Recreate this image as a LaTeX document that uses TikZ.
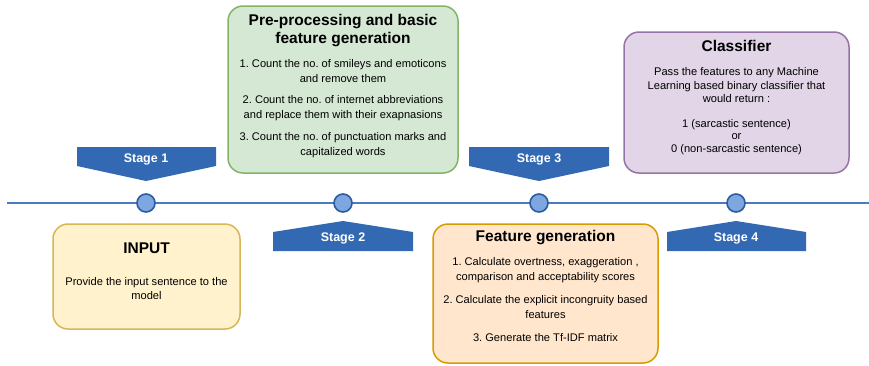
\documentclass[tikz,border=0pt]{standalone}
\usepackage{fontspec}
\setmainfont{Liberation Sans}
\frenchspacing
\definecolor{gfill}{HTML}{D5E8D4}\definecolor{gdraw}{HTML}{82B366}
\definecolor{yfill}{HTML}{FFF2CC}\definecolor{ydraw}{HTML}{D6B656}
\definecolor{ofill}{HTML}{FFE6CC}\definecolor{odraw}{HTML}{D79B00}
\definecolor{pfill}{HTML}{E1D5E7}\definecolor{pdraw}{HTML}{9673A6}
\definecolor{stageblue}{HTML}{3369B3}
\definecolor{linecol}{HTML}{4A7BBF}
\definecolor{dotfill}{HTML}{7EA6E0}\definecolor{dotdraw}{HTML}{2A5C9E}
\begin{document}
\begin{tikzpicture}[x=1pt,y=-1pt,
  box/.style={rounded corners=15pt,line width=1.5pt,inner sep=0pt},
  title/.style={font=\fontsize{15.5}{18}\selectfont\bfseries,align=center,inner sep=0pt},
  body/.style={font=\fontsize{11.1}{15}\selectfont,align=center,inner sep=0pt},
  stagelbl/.style={font=\fontsize{12.5}{14}\selectfont\bfseries,text=white,inner sep=0pt},
  stageshape/.style={fill=stageblue,draw=none},
  dot/.style={circle,minimum size=18pt,inner sep=0pt,fill=dotfill,draw=dotdraw,line width=1.6pt}]
\useasboundingbox (0,0) rectangle (869,365);

% timeline
\coordinate (tl) at (7,203);
\coordinate (tr) at (869,203);
\draw[linecol,line width=1.5pt] (tl) -- (tr);
\node[dot] (d1) at (146,203) {};
\node[dot] (d2) at (343,203) {};
\node[dot] (d3) at (539,203) {};
\node[dot] (d4) at (736,203) {};

% stage markers
\fill[stageshape] (77,147) -- (216,147) -- (216,166) -- (146,181) -- (77,166) -- cycle;
\node[stagelbl] (s1) at (146,159) {Stage 1};
\fill[stageshape] (469,147) -- (609,147) -- (609,166) -- (539,181) -- (469,166) -- cycle;
\node[stagelbl] (s3) at (539,159) {Stage 3};
\fill[stageshape] (273,251) -- (413,251) -- (413,232) -- (343,221) -- (273,232) -- cycle;
\node[stagelbl] (s2) at (343,238.5) {Stage 2};
\fill[stageshape] (667,251) -- (806,251) -- (806,232) -- (736,221) -- (667,232) -- cycle;
\node[stagelbl] (s4) at (736,238.5) {Stage 4};

% Pre-processing box
\draw[box,fill=gfill,draw=gdraw] (228,6) rectangle (458,173);
\node[title] (gt) at (343,30.5) {Pre-processing and basic\\feature generation};
\node[body,font=\fontsize{11.1}{15.7}\selectfont] (g1) at (343,71) {1. Count the no. of smileys and emoticons\\and remove them};
\node[body] (g2) at (343,108.5) {2. Count the no. of internet abbreviations\\and replace them with their exapnasions};
\node[body,font=\fontsize{11.1}{15.7}\selectfont] (g3) at (343,145) {3. Count the no. of punctuation marks and\\capitalized words};

% Classifier box
\draw[box,fill=pfill,draw=pdraw] (624,32) rectangle (849,173);
\node[title] (ct) at (736.5,46) {Classifier};
\node[body,font=\fontsize{11.1}{13.5}\selectfont] (c1) at (736.5,85.5) {Pass the features to any Machine\\Learning based binary classifier that\\would return :};
\node[body,font=\fontsize{11.1}{12.5}\selectfont] (c2) at (736.5,137) {1 (sarcastic sentence)\\or\\0 (non-sarcastic sentence)};

% INPUT box
\draw[box,fill=yfill,draw=ydraw] (53,224) rectangle (240,329);
\node[title] (it) at (146.5,248) {INPUT};
\node[body,font=\fontsize{11.1}{14}\selectfont] (i1) at (146.5,289) {Provide the input sentence to the\\model};

% Feature generation box
\draw[box,fill=ofill,draw=odraw] (433,224) rectangle (658,363);
\node[title] (ft) at (545.5,238) {Feature generation};
\node[body] (f1) at (545.5,270.5) {1. Calculate overtness, exaggeration ,\\comparison and acceptability scores};
\node[body] (f2) at (545.5,307.5) {2. Calculate the explicit incongruity based\\features};
\node[body] (f3) at (545.5,338) {3. Generate the Tf-IDF matrix};
\end{tikzpicture}
\end{document}
